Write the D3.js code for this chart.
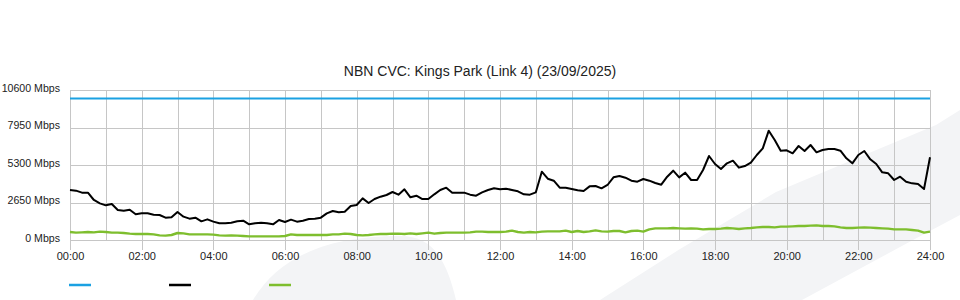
<!DOCTYPE html>
<html>
<head>
<meta charset="utf-8">
<script src="https://cdn.jsdelivr.net/npm/d3@7"></script>
<style>
  html, body { margin: 0; padding: 0; background: #fff; }
  svg { display: block; }
  text { font-family: "Liberation Sans", Arial, sans-serif; }
</style>
</head>
<body>
<svg id="chart" width="960" height="300"></svg>
<script>
// ---- data (10-minute samples from 00:00 to 24:00) ----
const title = "NBN CVC: Kings Park (Link 4) (23/09/2025)";
const stepMinutes = 10;
const capacityMbps = [10000, 10000];
const capacityHours = [0, 24];
const trafficMbps = [
  3533,3487,3345,3345,2827,2590,2450,2544,2120,2073,2143,1814,1884,1884,1790,1767,1578,1602,1979,1649,1508,1578,1319,1460,
  1296,1178,1178,1225,1319,1366,1107,1178,1225,1178,1107,1413,1272,1437,1296,1366,1484,1508,1578,1884,2049,1955,2002,2403,
  2473,2944,2615,2897,3062,3180,3392,3203,3580,3015,3133,2897,2897,3227,3533,3698,3345,3345,3345,3203,3133,3368,3533,3651,
  3580,3627,3533,3439,3227,3203,3368,4828,4333,4192,3698,3698,3604,3509,3463,3792,3816,3651,3887,4428,4523,4405,4192,4122,
  4311,4192,4028,3910,4475,4899,4428,4758,4240,4240,4947,5936,5371,5017,5418,5607,5112,5229,5465,6007,6479,7725,7067,6312,
  6337,6124,6643,6289,6713,6195,6360,6431,6431,6312,5771,5418,6007,6289,5701,5371,4781,4710,4240,4475,4122,4004,3957,3600,5850
];
const secondaryMbps = [
  565,518,541,565,541,589,565,518,518,495,447,424,424,424,400,330,306,353,495,471,400,400,400,400,
  377,330,306,330,306,283,259,259,259,259,259,259,283,400,353,353,353,353,353,353,400,400,447,424,
  353,330,353,400,424,424,447,447,424,471,424,471,518,447,495,518,518,518,518,541,589,589,565,565,
  565,589,659,565,518,565,541,589,612,612,612,659,565,636,565,612,683,612,589,636,636,541,636,659,
  589,754,824,824,824,848,824,801,824,801,754,777,777,801,848,824,777,824,848,895,918,918,895,942,
  942,965,989,989,1013,1036,989,989,965,895,848,848,871,895,871,848,824,801,754,754,754,707,659,518,589
];
const yTickValues = [0, 2650, 5300, 7950, 10600];
const xTickHours = [0,2,4,6,8,10,12,14,16,18,20,22,24];
const xTickLabels = ["00:00","02:00","04:00","06:00","08:00","10:00","12:00","14:00","16:00","18:00","20:00","22:00","24:00"];
const seriesNames = ["", "", ""];

// ---- layout ----
const svg = d3.select("#chart");
const W = 960, H = 300;
const m = { left: 70, right: 30, top: 90, bottom: 60 };
const x = d3.scaleLinear().domain([0, 24]).range([m.left, W - m.right]);
const y = d3.scaleLinear().domain([0, 10600]).range([H - m.bottom, m.top]);

// faint background watermark
const wm = svg.append("g").attr("fill", "#f3f4f6");
wm.append("path").attr("d", "M253,300 C280,255 330,236 400,236 C432,236 446,258 456,300 Z");
wm.append("path").attr("d", "M600,300 L680,249 L776,192 L936,125 L960,110 L960,215 L913,240 L802,300 Z");

// title
svg.append("text")
  .attr("x", W / 2).attr("y", 76)
  .attr("text-anchor", "middle")
  .attr("font-size", 14).attr("fill", "#222")
  .text(title);

// grid: hourly verticals
const grid = svg.append("g").attr("stroke", "#c6c6c6").attr("stroke-width", 1).attr("shape-rendering", "crispEdges");
grid.selectAll("line.v").data(d3.range(0, 25)).join("line")
  .attr("x1", d => Math.round(x(d)) + 0.5).attr("x2", d => Math.round(x(d)) + 0.5)
  .attr("y1", y(10600)).attr("y2", y(0));
grid.selectAll("line.h").data(yTickValues).join("line")
  .attr("x1", x(0)).attr("x2", x(24))
  .attr("y1", d => Math.round(y(d)) + 0.5).attr("y2", d => Math.round(y(d)) + 0.5);

// x axis
const xAxis = d3.axisBottom(x)
  .tickValues(xTickHours)
  .tickFormat((d, i) => xTickLabels[i])
  .tickSizeInner(10).tickSizeOuter(0).tickPadding(2);
const gx = svg.append("g").attr("transform", `translate(0,${y(0)})`).call(xAxis);
gx.select(".domain").remove();
gx.selectAll(".tick line").attr("stroke", "#c6c6c6").attr("shape-rendering", "crispEdges");
gx.selectAll(".tick text").attr("font-size", 11).attr("fill", "#222")
  .attr("font-family", "Liberation Sans, Arial, sans-serif");

// y axis
const yAxis = d3.axisLeft(y)
  .tickValues(yTickValues)
  .tickFormat(d => d + " Mbps")
  .tickSize(0).tickPadding(10);
const gy = svg.append("g").attr("transform", `translate(${x(0)},0)`).call(yAxis);
gy.select(".domain").remove();
gy.selectAll(".tick text").attr("font-size", 10.6).attr("fill", "#222")
  .attr("dy", "0.12em")
  .attr("font-family", "Liberation Sans, Arial, sans-serif");

// lines
const hourOf = i => i * stepMinutes / 60;
const lineIdx = d3.line().x((d, i) => x(hourOf(i))).y(d => y(d)).curve(d3.curveLinear);

svg.append("path")
  .attr("d", d3.line().x((d, i) => x(capacityHours[i])).y(d => y(d))(capacityMbps))
  .attr("fill", "none").attr("stroke", "#1ba1e2").attr("stroke-width", 2.2);

svg.append("path")
  .attr("d", lineIdx(secondaryMbps))
  .attr("fill", "none").attr("stroke", "#7ebe2e").attr("stroke-width", 2.4)
  .attr("stroke-linejoin", "round");

svg.append("path")
  .attr("d", lineIdx(trafficMbps))
  .attr("fill", "none").attr("stroke", "#000").attr("stroke-width", 2)
  .attr("stroke-linejoin", "round");

// legend (lines only, empty labels)
const legendColors = ["#1ba1e2", "#000", "#7ebe2e"];
const lg = svg.append("g").selectAll("g").data(legendColors).join("g")
  .attr("transform", (d, i) => `translate(${69 + i * 100},285)`);
lg.append("line").attr("x1", 0).attr("x2", 22).attr("y1", 0).attr("y2", 0)
  .attr("stroke", d => d).attr("stroke-width", 2.5);
lg.append("text").attr("x", 26).attr("y", 4).attr("font-size", 11).text((d, i) => seriesNames[i]);
</script>
</body>
</html>
